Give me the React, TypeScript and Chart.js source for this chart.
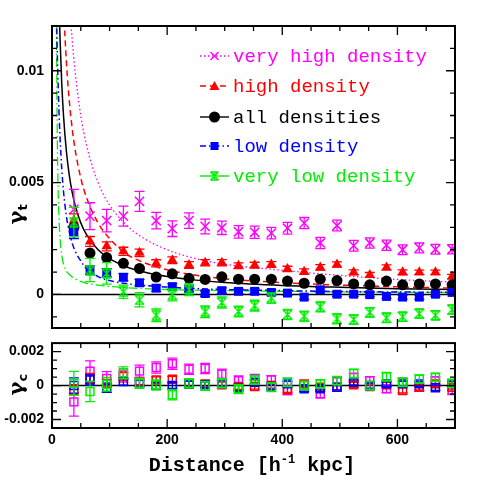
import React, { useEffect, useRef } from "react";
import { Chart, registerables } from "chart.js";
Chart.register(...registerables);

// projected distance of the bins [h^-1 kpc]
const DIST = [38, 66, 95, 124, 152, 181, 209, 238, 266, 295, 324, 352, 381, 409, 438, 466, 495, 524, 552, 581, 609, 638, 666, 695];

// tangential shear, units of 1e-3
const GT_VERY_HIGH = [3.8, 3.5, 3.3, 3.5, 4.16, 3.3, 2.94, 3.3, 3.04, 2.98, 2.8, 2.78, 2.74, 2.96, 3.19, 2.3, 3.08, 2.18, 2.3, 2.2, 2.0, 2.08, 2.02, 2.02];
const GT_VERY_HIGH_ERR = [0.9, 0.6, 0.5, 0.45, 0.45, 0.37, 0.35, 0.35, 0.33, 0.3, 0.28, 0.27, 0.26, 0.26, 0.25, 0.25, 0.24, 0.24, 0.23, 0.23, 0.22, 0.22, 0.22, 0.21];
const GT_HIGH = [3.3, 2.37, 2.15, 1.93, 1.86, 1.39, 1.53, 1.32, 1.42, 1.42, 1.28, 1.31, 1.34, 1.14, 1.02, 1.21, 1.34, 0.99, 0.87, 1.21, 0.99, 0.99, 0.99, 0.8];
const GT_HIGH_ERR = [0.3, 0.22, 0.2, 0.18, 0.17, 0.16, 0.15, 0.15, 0.14, 0.14, 0.13, 0.13, 0.13, 0.12, 0.12, 0.12, 0.12, 0.11, 0.11, 0.11, 0.11, 0.1, 0.1, 0.1];
const GT_ALL = [3.0, 1.85, 1.65, 1.39, 1.16, 0.78, 0.92, 0.72, 0.67, 0.79, 0.68, 0.68, 0.68, 0.6, 0.5, 0.68, 0.62, 0.47, 0.43, 0.6, 0.43, 0.47, 0.47, 0.43];
const GT_ALL_ERR = [0.15, 0.1, 0.09, 0.08, 0.08, 0.07, 0.07, 0.07, 0.06, 0.06, 0.06, 0.06, 0.06, 0.06, 0.05, 0.05, 0.05, 0.05, 0.05, 0.05, 0.05, 0.05, 0.05, 0.05];
const GT_LOW = [2.8, 1.09, 0.97, 0.77, 0.52, 0.28, 0.35, 0.25, 0.04, 0.17, 0.14, 0.14, 0.09, 0.06, -0.12, 0.21, 0.01, 0.01, -0.01, -0.09, -0.12, -0.12, 0.01, 0.09];
const GT_LOW_ERR = [0.3, 0.2, 0.18, 0.16, 0.15, 0.14, 0.13, 0.13, 0.12, 0.12, 0.11, 0.11, 0.11, 0.1, 0.1, 0.1, 0.1, 0.1, 0.1, 0.09, 0.09, 0.09, 0.09, 0.09];
const GT_VERY_LOW = [3.23, 1.09, 0.94, 0.12, -0.24, -0.93, -0.02, 0.21, -0.77, -0.36, -0.76, -0.5, -0.16, -0.9, -0.97, -0.56, -1.09, -1.12, -0.8, -1.05, -1.0, -0.86, -0.93, -0.68];
const GT_VERY_LOW_ERR = [0.66, 0.52, 0.48, 0.3, 0.32, 0.28, 0.27, 0.26, 0.26, 0.25, 0.24, 0.24, 0.23, 0.23, 0.22, 0.22, 0.22, 0.21, 0.21, 0.21, 0.2, 0.2, 0.2, 0.2];

// model fits, units of 1e-3
const FIT_R = [4, 6, 8, 9, 10, 12, 14, 17, 20, 25, 30, 35, 40, 50, 60, 80, 100, 130, 160, 200, 250, 300, 400, 500, 600, 700];
const FIT_VERY_HIGH = [100, 66.7, 50, 44.4, 40, 33.3, 28.6, 23.5, 20, 16, 13.3, 11.4, 10, 8, 6.67, 5, 4, 3.08, 2.5, 2.0, 1.6, 1.35, 1.08, 0.85, 0.67, 0.55];
const FIT_HIGH = [65, 43, 32.5, 28.9, 26, 21.7, 18.6, 15.3, 13, 10.4, 8.67, 7.43, 6.5, 5.2, 4.33, 3.2, 2.5, 1.8, 1.42, 1.1, 0.86, 0.7, 0.53, 0.42, 0.34, 0.28];
const FIT_ALL = [40, 26.7, 20, 17.8, 16, 13.3, 11.4, 9.4, 8, 6.4, 5.33, 4.57, 4, 3.2, 2.67, 2, 1.6, 1.23, 1.0, 0.8, 0.64, 0.53, 0.4, 0.32, 0.26, 0.22];
const FIT_LOW = [30, 19, 12.5, 11, 10, 8.3, 7, 5.6, 4.6, 3.5, 2.8, 2.3, 1.95, 1.5, 1.15, 0.8, 0.62, 0.48, 0.4, 0.33, 0.26, 0.22, 0.17, 0.13, 0.11, 0.09];
const FIT_VERY_LOW = [60, 25, 11, 7.5, 5.5, 3.5, 2.5, 1.75, 1.35, 1.05, 0.9, 0.78, 0.7, 0.58, 0.5, 0.42, 0.36, 0.3, 0.26, 0.22, 0.19, 0.17, 0.14, 0.12, 0.1, 0.09];

// cross shear, units of 1e-3
const GC_VERY_HIGH = [-0.96, 0.85, 0.42, 0.56, 0.85, 1.06, 1.29, 0.96, 1.0, 0.67, 0.29, 0.38, 0.33, -0.29, 0.0, -0.48, 0.23, 0.48, 0.29, -0.19, 0.19, -0.1, 0.29, -0.29];
const GC_VERY_HIGH_ERR = [0.84, 0.6, 0.4, 0.35, 0.35, 0.33, 0.33, 0.3, 0.3, 0.3, 0.28, 0.27, 0.26, 0.25, 0.25, 0.25, 0.24, 0.24, 0.24, 0.23, 0.23, 0.23, 0.22, 0.22];
const GC_HIGH = [-0.25, 0.42, 0.13, 0.56, 0.23, 0.33, 0.37, 0.13, 0.1, 0.04, -0.06, -0.06, 0.0, -0.25, 0.1, -0.1, -0.1, 0.04, -0.06, 0.04, -0.29, -0.1, 0.1, -0.1];
const GC_HIGH_ERR = [0.3, 0.3, 0.22, 0.2, 0.18, 0.18, 0.17, 0.17, 0.16, 0.16, 0.16, 0.15, 0.15, 0.15, 0.15, 0.15, 0.15, 0.15, 0.15, 0.15, 0.15, 0.15, 0.15, 0.15];
const GC_LOW = [0.0, 0.33, -0.15, 0.23, 0.13, 0.0, 0.0, 0.08, 0.05, 0.13, -0.15, 0.19, -0.06, 0.1, -0.19, -0.19, -0.1, 0.19, 0.0, 0.1, 0.1, 0.1, -0.13, 0.1];
const GC_LOW_ERR = [0.45, 0.3, 0.25, 0.2, 0.18, 0.18, 0.17, 0.17, 0.16, 0.16, 0.16, 0.15, 0.15, 0.15, 0.15, 0.15, 0.15, 0.15, 0.15, 0.15, 0.15, 0.15, 0.15, 0.15];
const GC_VERY_LOW = [0.13, -0.35, 0.08, 0.75, 0.13, 0.04, -0.54, 0.13, -0.02, 0.13, -0.21, 0.33, -0.1, 0.19, 0.0, 0.1, 0.29, 0.71, 0.0, 0.52, 0.19, 0.38, 0.48, 0.13];
const GC_VERY_LOW_ERR = [0.7, 0.6, 0.4, 0.35, 0.3, 0.3, 0.3, 0.28, 0.27, 0.27, 0.26, 0.26, 0.25, 0.25, 0.25, 0.25, 0.25, 0.25, 0.25, 0.25, 0.25, 0.25, 0.25, 0.25];

// axes
const X_MAJOR = [0, 200, 400, 600];
const X_LABELS = ["0", "200", "400", "600"];
const X_MINOR = [50, 100, 150, 250, 300, 350, 450, 500, 550, 650];
const YT_MAJOR = [0, 0.005, 0.01];
const YT_LABELS = ["0", "0.005", "0.01"];
const YT_MINOR = [-0.001, 0.001, 0.002, 0.003, 0.004, 0.006, 0.007, 0.008, 0.009, 0.011];
const YC_MAJOR = [-0.002, 0, 0.002];
const YC_LABELS = ["-0.002", "0", "0.002"];
const YC_MINOR = [-0.0015, -0.001, -0.0005, 0.0005, 0.001, 0.0015];

const LEGEND_LABELS = ["very high density", "high density", "all densities", "low density", "very low density"];
const COLORS = ["#ff00ff", "#ff0000", "#000000", "#0000ff", "#00ee00"];

const E3 = 1e-3;
const pts = (xs: number[], ys: number[]) => xs.map((x, i) => ({ x, y: ys[i] * E3 }));
const errs = (es: number[]) => es.map((e) => e * E3);

function makeHourglass(color: string, size: number) {
  const c = document.createElement("canvas");
  c.width = size;
  c.height = size;
  const g = c.getContext("2d")!;
  g.strokeStyle = color;
  g.lineWidth = 1.4;
  const a = 1, b = size - 1, m = size / 2;
  g.beginPath();
  g.moveTo(a, a); g.lineTo(b, a);
  g.moveTo(a, b); g.lineTo(b, b);
  g.moveTo(a, a); g.lineTo(b, b);
  g.moveTo(b, a); g.lineTo(a, b);
  g.moveTo(m, a); g.lineTo(m, b);
  g.stroke();
  return c;
}

function drawLegendMarker(ctx: CanvasRenderingContext2D, i: number, x: number, y: number) {
  const col = COLORS[i];
  ctx.save();
  ctx.strokeStyle = col;
  ctx.fillStyle = col;
  ctx.setLineDash([]);
  ctx.lineWidth = 1.4;
  ctx.beginPath();
  if (i === 0) {
    ctx.moveTo(x - 4, y - 4); ctx.lineTo(x + 4, y + 4);
    ctx.moveTo(x + 4, y - 4); ctx.lineTo(x - 4, y + 4);
    ctx.stroke();
  } else if (i === 1) {
    ctx.moveTo(x, y - 5); ctx.lineTo(x + 5, y + 4); ctx.lineTo(x - 5, y + 4); ctx.closePath();
    ctx.fill();
  } else if (i === 2) {
    ctx.arc(x, y, 5.5, 0, Math.PI * 2);
    ctx.fill();
  } else if (i === 3) {
    ctx.rect(x - 4, y - 4, 8, 8);
    ctx.fill();
  } else {
    ctx.moveTo(x - 4, y - 4); ctx.lineTo(x + 4, y - 4);
    ctx.moveTo(x - 4, y + 4); ctx.lineTo(x + 4, y + 4);
    ctx.moveTo(x - 4, y - 4); ctx.lineTo(x + 4, y + 4);
    ctx.moveTo(x + 4, y - 4); ctx.lineTo(x - 4, y + 4);
    ctx.moveTo(x, y - 4); ctx.lineTo(x, y + 4);
    ctx.stroke();
  }
  ctx.restore();
}

const DASHES: number[][] = [[1.5, 2.5], [6, 4], [], [6, 3, 1.5, 3], [9, 3, 1.5, 3]];
const LEGEND_DASHES: number[][] = [[1.5, 2.5], [6, 4], [], [6, 3, 1.5, 3], []];

function framePlugin(cfg: {
  id: string;
  yMajor: number[]; yMinor: number[]; yLabels: string[];
  ySub: string; yTitleY: number;
  xLabels: boolean; xTitle: boolean; legend: boolean;
}) {
  return {
    id: cfg.id,
    beforeDatasetsDraw(chart: any) {
      const { ctx, chartArea: a, scales } = chart;
      const y0 = scales.y.getPixelForValue(0);
      ctx.save();
      ctx.strokeStyle = "#000";
      ctx.lineWidth = 1.5;
      ctx.beginPath();
      ctx.moveTo(a.left, y0);
      ctx.lineTo(a.right, y0);
      ctx.stroke();
      ctx.restore();
    },
    beforeDatasetDraw(chart: any, args: any) {
      const ds = chart.data.datasets[args.index];
      if (!ds.errors) return;
      const { ctx, chartArea: a, scales } = chart;
      ctx.save();
      ctx.beginPath();
      ctx.rect(a.left, a.top, a.right - a.left, a.bottom - a.top);
      ctx.clip();
      ctx.strokeStyle = ds.borderColor;
      ctx.lineWidth = 1.3;
      const cap = ds.capHalf || 4.5;
      ds.data.forEach((p: any, j: number) => {
        const e = ds.errors[j];
        const px = scales.x.getPixelForValue(p.x);
        const yt = scales.y.getPixelForValue(p.y + e);
        const yb = scales.y.getPixelForValue(p.y - e);
        ctx.beginPath();
        ctx.moveTo(px, yt); ctx.lineTo(px, yb);
        ctx.moveTo(px - cap, yt); ctx.lineTo(px + cap, yt);
        ctx.moveTo(px - cap, yb); ctx.lineTo(px + cap, yb);
        ctx.stroke();
      });
      ctx.restore();
    },
    afterDraw(chart: any) {
      const { ctx, chartArea: a, scales } = chart;
      const xs = scales.x, ys = scales.y;
      ctx.save();
      ctx.strokeStyle = "#000";
      ctx.lineWidth = 1.3;
      ctx.beginPath();
      const tick = (vals: number[], len: number) => {
        vals.forEach((v) => {
          const px = xs.getPixelForValue(v);
          ctx.moveTo(px, a.bottom); ctx.lineTo(px, a.bottom - len);
          ctx.moveTo(px, a.top); ctx.lineTo(px, a.top + len);
        });
      };
      tick(X_MAJOR, 9);
      tick(X_MINOR, 5);
      const ytick = (vals: number[], len: number) => {
        vals.forEach((v) => {
          const py = ys.getPixelForValue(v);
          ctx.moveTo(a.left, py); ctx.lineTo(a.left + len, py);
          ctx.moveTo(a.right, py); ctx.lineTo(a.right - len, py);
        });
      };
      ytick(cfg.yMajor, 9);
      ytick(cfg.yMinor, 5);
      ctx.stroke();
      ctx.lineWidth = 2;
      ctx.strokeRect(a.left, a.top, a.right - a.left, a.bottom - a.top);

      ctx.fillStyle = "#000";
      ctx.font = "bold 14px 'Liberation Sans', Arial, sans-serif";
      ctx.textAlign = "right";
      ctx.textBaseline = "middle";
      cfg.yMajor.forEach((v, i) => {
        ctx.fillText(cfg.yLabels[i], a.left - 8, ys.getPixelForValue(v));
      });
      if (cfg.xLabels) {
        ctx.textAlign = "center";
        X_MAJOR.forEach((v, i) => {
          ctx.fillText(X_LABELS[i], xs.getPixelForValue(v), a.bottom + 12);
        });
      }
      // y title
      ctx.save();
      ctx.translate(18, cfg.yTitleY);
      ctx.rotate(-Math.PI / 2);
      ctx.textAlign = "left";
      ctx.textBaseline = "alphabetic";
      ctx.font = "bold 21px 'DejaVu Serif', serif";
      const gw = ctx.measureText("\u03b3").width;
      const total = gw + 7;
      ctx.fillText("\u03b3", -total / 2, 5);
      ctx.font = "bold 13px 'DejaVu Sans', sans-serif";
      ctx.fillText(cfg.ySub, -total / 2 + gw, 9);
      ctx.restore();

      if (cfg.xTitle) {
        const parts = ["Distance [h", "-1", " kpc]"];
        const big = "bold 20px 'Liberation Mono', monospace";
        const small = "bold 12px 'Liberation Mono', monospace";
        ctx.font = big;
        const w1 = ctx.measureText(parts[0]).width;
        const w3 = ctx.measureText(parts[2]).width;
        ctx.font = small;
        const w2 = ctx.measureText(parts[1]).width;
        const tot = w1 + w2 + w3;
        const cx = 252;
        const by = 135;
        let x = cx - tot / 2;
        ctx.textAlign = "left";
        ctx.textBaseline = "alphabetic";
        ctx.font = big;
        ctx.fillText(parts[0], x, by);
        x += w1;
        ctx.font = small;
        ctx.fillText(parts[1], x, by - 8);
        x += w2;
        ctx.font = big;
        ctx.fillText(parts[2], x, by);
      }

      if (cfg.legend) {
        const ly = [56, 86, 117, 146, 176];
        ctx.font = "19px 'Liberation Mono', monospace";
        ctx.textAlign = "left";
        ctx.textBaseline = "middle";
        LEGEND_LABELS.forEach((t, i) => {
          const y = ly[i];
          ctx.save();
          ctx.strokeStyle = COLORS[i];
          ctx.lineWidth = 1.4;
          ctx.setLineDash(LEGEND_DASHES[i]);
          ctx.beginPath();
          ctx.moveTo(200, y);
          ctx.lineTo(229, y);
          ctx.stroke();
          ctx.restore();
          drawLegendMarker(ctx, i, 214.5, y);
          ctx.fillStyle = COLORS[i];
          ctx.fillText(t, 233, y + 1);
        });
      }
      ctx.restore();
    },
  };
}

export default function App() {
  const topRef = useRef<HTMLCanvasElement>(null);
  const botRef = useRef<HTMLCanvasElement>(null);

  useEffect(() => {
    const hour = makeHourglass(COLORS[4], 11);
    const fit = (ys: number[], i: number, width: number) => ({
      type: "line" as const,
      data: pts(FIT_R, ys),
      borderColor: COLORS[i],
      borderWidth: width,
      borderDash: DASHES[i],
      pointRadius: 0,
      fill: false,
      cubicInterpolationMode: "monotone" as const,
      order: 20,
    });
    const obs = (ys: number[], es: number[], i: number, extra: any) => ({
      type: "scatter" as const,
      data: pts(DIST, ys),
      errors: errs(es),
      borderColor: COLORS[i],
      backgroundColor: COLORS[i],
      showLine: false,
      ...extra,
    });

    const common = (padding: any, ymin: number, ymax: number) => ({
      responsive: false,
      maintainAspectRatio: false,
      devicePixelRatio: 1,
      animation: false as const,
      events: [] as any[],
      layout: { padding },
      plugins: { legend: { display: false }, tooltip: { enabled: false }, title: { display: false } },
      scales: {
        x: { type: "linear" as const, min: 0, max: 700, display: false },
        y: { type: "linear" as const, min: ymin, max: ymax, display: false },
      },
    });

    const top = new Chart(topRef.current!, {
      type: "scatter",
      data: {
        datasets: [
          fit(FIT_VERY_HIGH, 0, 1.3),
          fit(FIT_HIGH, 1, 1.5),
          fit(FIT_ALL, 2, 1.5),
          fit(FIT_LOW, 3, 1.5),
          fit(FIT_VERY_LOW, 4, 1.3),
          obs(GT_VERY_HIGH, GT_VERY_HIGH_ERR, 0, { pointStyle: "crossRot", pointRadius: 6.5, borderWidth: 1.5, order: 5, capHalf: 5 }),
          obs(GT_HIGH, GT_HIGH_ERR, 1, { pointStyle: "triangle", pointRadius: 6, borderWidth: 0, order: 4, capHalf: 5 }),
          obs(GT_ALL, GT_ALL_ERR, 2, { pointStyle: "circle", pointRadius: 5.5, borderWidth: 0, order: 3, capHalf: 4 }),
          obs(GT_LOW, GT_LOW_ERR, 3, { pointStyle: "rect", pointRadius: 6.3, borderWidth: 0, order: 2, capHalf: 5 }),
          obs(GT_VERY_LOW, GT_VERY_LOW_ERR, 4, { pointStyle: hour, pointRadius: 5.5, borderWidth: 1, order: 1, capHalf: 5 }),
        ] as any,
      },
      options: common({ left: 52, right: 25, top: 26, bottom: 3 }, -0.0015, 0.012) as any,
      plugins: [
        framePlugin({
          id: "frameTop", yMajor: YT_MAJOR, yMinor: YT_MINOR, yLabels: YT_LABELS,
          ySub: "t", yTitleY: 214, xLabels: false, xTitle: false, legend: true,
        }),
      ],
    });

    const open = (order: number) => ({
      pointStyle: "rect", pointRadius: 5.6, borderWidth: 1.5, backgroundColor: "rgba(0,0,0,0)", order, capHalf: 5,
    });
    const bot = new Chart(botRef.current!, {
      type: "scatter",
      data: {
        datasets: [
          obs(GC_VERY_HIGH, GC_VERY_HIGH_ERR, 0, open(4)),
          obs(GC_HIGH, GC_HIGH_ERR, 1, open(3)),
          obs(GC_LOW, GC_LOW_ERR, 3, open(2)),
          obs(GC_VERY_LOW, GC_VERY_LOW_ERR, 4, open(1)),
        ] as any,
      },
      options: common({ left: 52, right: 25, top: 4, bottom: 52 }, -0.0025, 0.0025) as any,
      plugins: [
        framePlugin({
          id: "frameBot", yMajor: YC_MAJOR, yMinor: YC_MINOR, yLabels: YC_LABELS,
          ySub: "c", yTitleY: 49, xLabels: true, xTitle: true, legend: false,
        }),
      ],
    });

    return () => {
      top.destroy();
      bot.destroy();
    };
  }, []);

  return (
    <div style={{ position: "fixed", left: 0, top: 0, width: 480, height: 480, background: "#fff" }}>
      <canvas ref={topRef} width={480} height={336} style={{ position: "absolute", left: 0, top: 0, width: 480, height: 336 }} />
      <canvas ref={botRef} width={480} height={144} style={{ position: "absolute", left: 0, top: 336, width: 480, height: 144 }} />
    </div>
  );
}
